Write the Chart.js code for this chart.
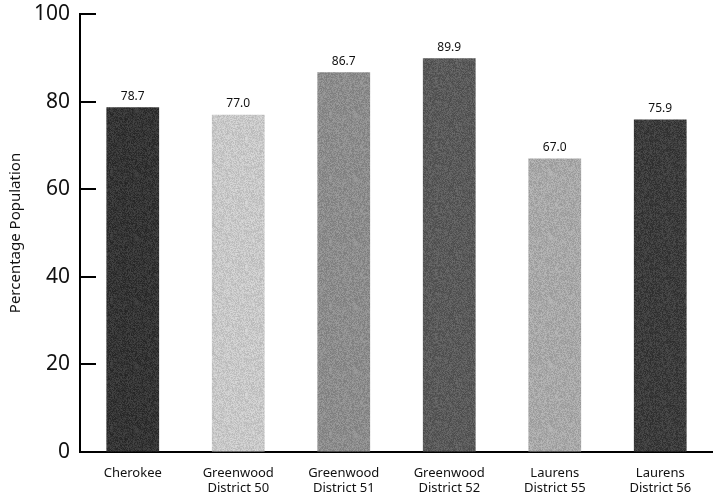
<!DOCTYPE html>
<html><head><meta charset="utf-8">
<title>Percentage Population</title>
<script src="https://cdn.jsdelivr.net/npm/chart.js@4.4.7/dist/chart.umd.min.js"></script>
<style>
html,body{margin:0;padding:0;background:#fff}
#wrap{position:relative;width:713px;height:493px}
</style></head><body>
<div id="wrap"><canvas id="chart"></canvas></div>
<script>
// data
var CATEGORIES = [['Cherokee'], ['Greenwood', 'District 50'], ['Greenwood', 'District 51'],
  ['Greenwood', 'District 52'], ['Laurens', 'District 55'], ['Laurens', 'District 56']];
var VALUES = [78.7, 77.0, 86.7, 89.9, 67.0, 75.9];
var Y_TICKS = [0, 20, 40, 60, 80, 100];
var BAR_GREYS = [52, 200, 140, 90, 168, 60];

var FONT = '"Noto Sans", "Open Sans", sans-serif';

// grainy grey fill, seeded so it looks the same every run
function grain(base, seed) {
  var c = document.createElement('canvas');
  c.width = 64; c.height = 64;
  var g = c.getContext('2d');
  var s = seed;
  for (var y = 0; y < 64; y++) {
    for (var x = 0; x < 64; x++) {
      s = (s * 1103515245 + 12345) & 0x7fffffff;
      var v = base + ((s >> 8) % 33) - 16;
      v = Math.max(0, Math.min(255, v));
      g.fillStyle = 'rgb(' + v + ',' + v + ',' + v + ')';
      g.fillRect(x, y, 1, 1);
    }
  }
  return g.createPattern(c, 'repeat');
}

var fills = BAR_GREYS.map(function(v, i) { return grain(v, 17 + i * 31); });

var valueLabels = {
  id: 'valueLabels',
  afterDatasetsDraw: function(chart) {
    var ctx = chart.ctx;
    var meta = chart.getDatasetMeta(0);
    ctx.save();
    ctx.fillStyle = '#111';
    ctx.font = '12px ' + FONT;
    ctx.textAlign = 'center';
    ctx.textBaseline = 'bottom';
    meta.data.forEach(function(bar, i) {
      ctx.fillText(VALUES[i].toFixed(1), bar.x, bar.y - 5);
    });
    ctx.restore();
  }
};

// ticks on the y axis point into the plot
var innerTicks = {
  id: 'innerTicks',
  afterDraw: function(chart) {
    var ctx = chart.ctx;
    var ys = chart.scales.y;
    ctx.save();
    ctx.strokeStyle = '#000';
    ctx.lineWidth = 2;
    Y_TICKS.forEach(function(t) {
      var py = Math.round(ys.getPixelForValue(t));
      ctx.beginPath();
      ctx.moveTo(chart.chartArea.left, py);
      ctx.lineTo(chart.chartArea.left + 16, py);
      ctx.stroke();
    });
    ctx.restore();
  }
};

new Chart(document.getElementById('chart'), {
  type: 'bar',
  data: {
    labels: CATEGORIES,
    datasets: [{
      data: VALUES,
      backgroundColor: fills,
      borderWidth: 0,
      categoryPercentage: 1,
      barPercentage: 0.5
    }]
  },
  options: {
    responsive: true,
    maintainAspectRatio: false,
    animation: false,
    layout: { padding: { top: 14, right: 0, left: 7, bottom: 0 } },
    plugins: { legend: { display: false }, tooltip: { enabled: false } },
    scales: {
      x: {
        grid: { display: false },
        border: { color: '#000', width: 2 },
        ticks: { color: '#111', font: { size: 13, family: FONT }, padding: 5, maxRotation: 0, autoSkip: false },
        afterFit: function(s) { s.height = 41; s.paddingLeft = 0; s.paddingRight = 0; }
      },
      y: {
        min: 0, max: 100,
        afterBuildTicks: function(s) { s.ticks = Y_TICKS.map(function(v) { return { value: v }; }); },
        grid: { display: true, drawOnChartArea: false, drawTicks: false },
        border: { color: '#000', width: 2 },
        ticks: { color: '#111', font: { size: 21, family: FONT }, padding: 10 },
        title: { display: true, text: 'Percentage Population', color: '#111', font: { size: 15, family: FONT }, padding: { top: 0, bottom: 4 } },
        afterFit: function(s) { s.width = 73; s.paddingTop = 0; s.paddingBottom = 0; }
      }
    }
  },
  plugins: [valueLabels, innerTicks]
});
</script>
</body></html>
